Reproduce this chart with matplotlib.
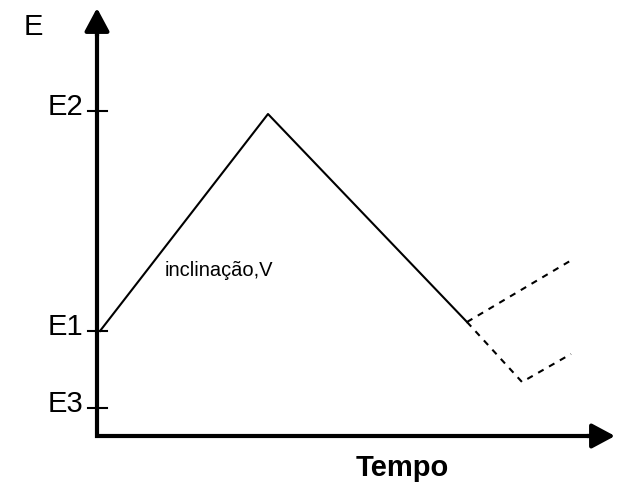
import matplotlib.pyplot as plt

plt.rcParams['font.family'] = ['Liberation Sans', 'DejaVu Sans']

# potential levels (arbitrary units above the time axis)
level_names = ['E1', 'E2', 'E3']
level_values = [10.5, 32.5, 2.8]

# triangular sweep: E1 -> E2 -> back down
sweep_t = [0.3, 17.1, 37.0]
sweep_e = [10.5, 32.2, 11.4]

# continuation after the switching point (dashed)
upper_t = [37.0, 47.3]
upper_e = [11.4, 17.5]
lower_t = [37.0, 42.5, 47.4]
lower_e = [11.4, 5.4, 8.2]

fig = plt.figure(figsize=(6.2, 4.89), dpi=100)
ax = fig.add_axes([0, 0, 1, 1])
ax.set_xlim(-9.7, 52.3)
ax.set_ylim(-5.2, 43.7)
ax.axis('off')

# axes: one polyline for a clean corner, arrowheads on top
ax.plot([0, 0, 50.5], [41.5, 0, 0], color='black', lw=3.0,
        solid_joinstyle='miter', solid_capstyle='butt')
arrow = dict(arrowstyle='-|>,head_length=1.4,head_width=0.75', lw=3.0,
             color='black', shrinkA=0, shrinkB=0)
ax.annotate('', xy=(0, 42.8), xytext=(0, 40.0), arrowprops=arrow)
ax.annotate('', xy=(51.8, 0), xytext=(49.0, 0), arrowprops=arrow)

# level ticks and labels (labels sit a little above their tick)
for name, val in zip(level_names, level_values):
    ax.plot([-0.9, 1.0], [val, val], color='black', lw=1.5)
    ax.text(-1.4, val + 0.5, name, ha='right', va='center', fontsize=21)

ax.text(-6.4, 41.0, 'E', ha='center', va='center', fontsize=21)
ax.text(30.5, -3.1, 'Tempo', ha='center', va='center', fontsize=21,
        fontweight='bold')

ax.plot(sweep_t, sweep_e, color='black', lw=1.5)
ax.plot(upper_t, upper_e, color='black', lw=1.5, ls=(0, (3, 3)))
ax.plot(lower_t, lower_e, color='black', lw=1.5, ls=(0, (3, 3)))

ax.text(6.8, 16.6, 'inclinação,V', ha='left', va='center', fontsize=14.5)

fig.savefig('out.png', dpi=100)
